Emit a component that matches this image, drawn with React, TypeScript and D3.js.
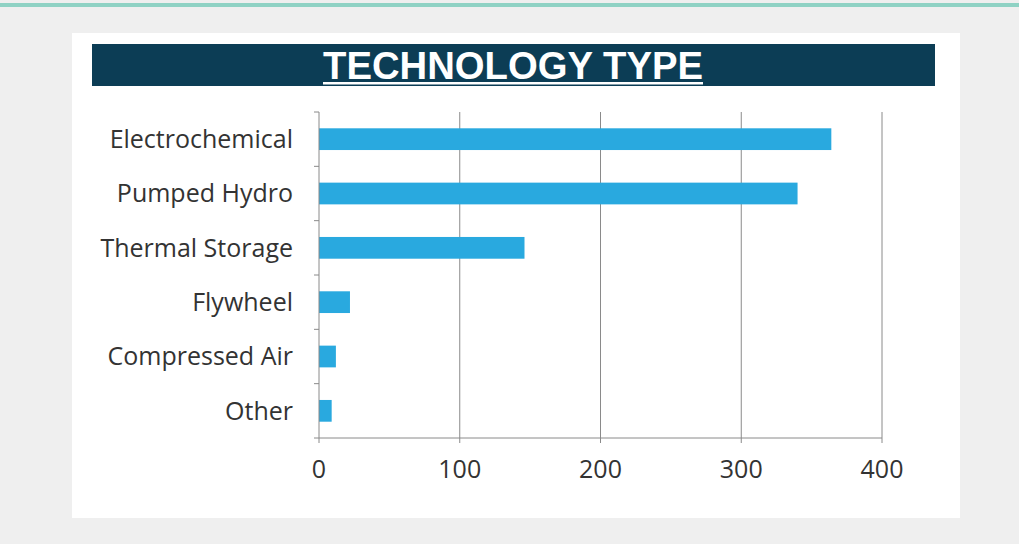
import * as d3 from "d3";
import { useRef, useEffect } from "react";

const categories = ["Electrochemical", "Pumped Hydro", "Thermal Storage", "Flywheel", "Compressed Air", "Other"];
const values = [364, 340, 146, 22, 12, 9];
const xTicks = [0, 100, 200, 300, 400];
const title = "TECHNOLOGY TYPE";

export default function App() {
    const ref = useRef<SVGSVGElement | null>(null);

    useEffect(() => {
        const svg = d3.select(ref.current);
        svg.selectAll("*").remove();

        const width = 1019;
        const height = 544;
        svg.attr("width", width).attr("height", height);

        // page background + top accent line
        svg.append("rect").attr("width", width).attr("height", height).attr("fill", "#efefef");
        svg.append("rect").attr("x", 0).attr("y", 3).attr("width", width).attr("height", 4).attr("fill", "#8fd2c4");

        // white card
        svg.append("rect").attr("x", 72).attr("y", 33).attr("width", 888).attr("height", 485).attr("fill", "#ffffff");

        // title bar
        svg.append("rect").attr("x", 92).attr("y", 44).attr("width", 843).attr("height", 42).attr("fill", "#0c3d55");
        svg.append("text")
            .attr("x", 513)
            .attr("y", 79)
            .attr("text-anchor", "middle")
            .attr("font-family", "Liberation Sans, Arial, sans-serif")
            .attr("font-weight", "bold")
            .attr("font-size", 38)
            .attr("textLength", 380)
            .attr("lengthAdjust", "spacingAndGlyphs")
            .attr("fill", "#ffffff")
            .text(title);
        svg.append("rect").attr("x", 323).attr("y", 82).attr("width", 380).attr("height", 2.5).attr("fill", "#ffffff");

        const left = 319;
        const right = 882;
        const top = 112;
        const bottom = 438;

        const x = d3.scaleLinear().domain([0, 400]).range([left, right]);
        const y = d3.scaleBand().domain(categories).range([top, bottom]).paddingInner(0.6).paddingOuter(0.3);
        const band = (bottom - top) / categories.length;

        const font = "Open Sans, sans-serif";
        const grid = "#8a8a8a";

        // vertical gridlines
        svg.append("g")
            .selectAll("line")
            .data(xTicks.slice(1))
            .enter()
            .append("line")
            .attr("x1", (d) => x(d))
            .attr("x2", (d) => x(d))
            .attr("y1", top)
            .attr("y2", bottom + 5)
            .attr("stroke", grid)
            .attr("stroke-width", 1);

        // bars
        svg.append("g")
            .selectAll("rect")
            .data(values)
            .enter()
            .append("rect")
            .attr("x", x(0))
            .attr("y", (_, i) => y(categories[i])!)
            .attr("width", (d) => x(d) - x(0))
            .attr("height", y.bandwidth())
            .attr("fill", "#29a9df");

        // y axis line + ticks
        svg.append("line")
            .attr("x1", left).attr("x2", left)
            .attr("y1", top).attr("y2", bottom + 5)
            .attr("stroke", grid);
        svg.append("g")
            .selectAll("line")
            .data(d3.range(categories.length))
            .enter()
            .append("line")
            .attr("x1", left - 5)
            .attr("x2", left)
            .attr("y1", (i) => top + i * band)
            .attr("y2", (i) => top + i * band)
            .attr("stroke", grid);

        // x axis line
        svg.append("line")
            .attr("x1", left - 5).attr("x2", right)
            .attr("y1", bottom).attr("y2", bottom)
            .attr("stroke", grid);

        // category labels
        svg.append("g")
            .selectAll("text")
            .data(categories)
            .enter()
            .append("text")
            .attr("x", 293)
            .attr("y", (d) => y(d)! + y.bandwidth() / 2)
            .attr("dy", "0.35em")
            .attr("text-anchor", "end")
            .attr("font-family", font)
            .attr("font-size", 25)
            .attr("fill", "#333333")
            .text((d) => d);

        // x tick labels
        svg.append("g")
            .selectAll("text")
            .data(xTicks)
            .enter()
            .append("text")
            .attr("x", (d) => x(d))
            .attr("y", 478)
            .attr("text-anchor", "middle")
            .attr("font-family", font)
            .attr("font-size", 25)
            .attr("fill", "#333333")
            .text((d) => d);
    }, []);

    return (
        <div style={{ position: "fixed", left: 0, top: 0 }}>
            <svg ref={ref}></svg>
        </div>
    );
}
